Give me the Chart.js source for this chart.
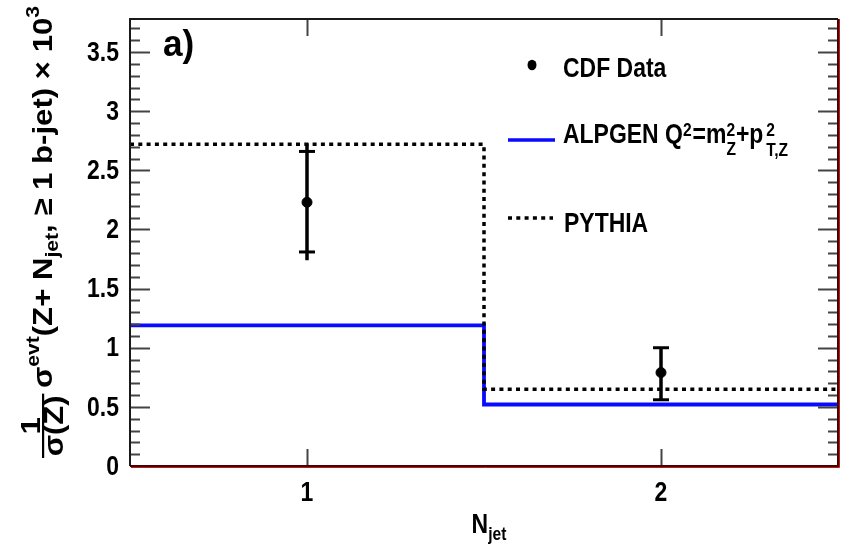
<!DOCTYPE html>
<html>
<head>
<meta charset="utf-8">
<script src="https://cdn.jsdelivr.net/npm/chart.js@4/dist/chart.umd.min.js"></script>
<style>
  html, body { margin: 0; padding: 0; background: #fff; }
  #wrap { width: 854px; height: 548px; }
</style>
</head>
<body>
<div id="wrap"><canvas id="c" width="854" height="548"></canvas></div>
<script>
// Bin edges in N_jet and the per-bin values
const binEdges = [0.5, 1.5, 2.5];
const nJet = [1, 2];
const cdfData = [2.23, 0.79];
const cdfStatLow = [1.81, 0.56];
const cdfStatHigh = [2.66, 1.00];
const cdfTotLow = [1.74, 0.56];
const cdfTotHigh = [2.73, 1.00];
const alpgen = [1.19, 0.52];
const pythia = [2.72, 0.65];
const xTicks = [1, 2];
const yTicks = [0, 0.5, 1, 1.5, 2, 2.5, 3, 3.5];
const yTickLabels = ['0', '0.5', '1', '1.5', '2', '2.5', '3', '3.5'];
const xTickLabels = ['1', '2'];
const yMinorStep = 0.1;
const Y_MAX = 3.78;

const FAM = '"Liberation Sans", Arial, Helvetica, sans-serif';
const BIG = `bold 28px ${FAM}`;
const SMALL = `bold 19px ${FAM}`;
const SX = 0.82;            // condensed letter width
const BLUE = '#0a0aff';

// histogram outline: one point per bin edge, horizontal run then vertical step
function stepPoints(vals) {
  return binEdges.map((e, i) => ({ x: e, y: vals[Math.min(i, vals.length - 1)] }));
}

function textW(ctx, s, font, sx = SX) {
  ctx.save(); ctx.font = font;
  const w = ctx.measureText(s).width * sx;
  ctx.restore();
  return w;
}
function drawText(ctx, s, x, y, font, align = 'left', baseline = 'alphabetic', sx = SX) {
  ctx.save();
  ctx.font = font; ctx.textAlign = align; ctx.textBaseline = baseline;
  ctx.translate(x, y); ctx.scale(sx, 1);
  ctx.fillText(s, 0, 0);
  ctx.restore();
}

const frameAndDecor = {
  id: 'frameAndDecor',
  beforeDatasetsDraw(chart) {
    // error bars of the data points
    const { ctx, scales: { x, y } } = chart;
    ctx.save();
    ctx.strokeStyle = '#000';
    nJet.forEach((n, i) => {
      const px = x.getPixelForValue(n);
      ctx.lineWidth = 3.5;
      ctx.beginPath();
      ctx.moveTo(px, y.getPixelForValue(cdfTotLow[i]));
      ctx.lineTo(px, y.getPixelForValue(cdfTotHigh[i]));
      ctx.stroke();
      ctx.lineWidth = 3;
      [cdfStatLow[i], cdfStatHigh[i]].forEach(v => {
        const py = y.getPixelForValue(v);
        ctx.beginPath();
        ctx.moveTo(px - 8, py);
        ctx.lineTo(px + 8, py);
        ctx.stroke();
      });
    });
    ctx.restore();
  },
  afterDatasetsDraw(chart) {
    const { ctx, chartArea: a, scales: { x, y } } = chart;
    ctx.save();
    // minor and major ticks on both vertical edges
    ctx.strokeStyle = '#444';
    ctx.lineWidth = 2;
    const nMinor = Math.floor(Y_MAX / yMinorStep + 1e-6);
    for (let k = 1; k <= nMinor; k++) {
      const v = k * yMinorStep;
      const major = yTicks.some(t => Math.abs(t - v) < 1e-6);
      const len = major ? 20 : 10;
      const py = Math.round(y.getPixelForValue(v)) + 0.5;
      ctx.beginPath();
      ctx.moveTo(a.left, py); ctx.lineTo(a.left + len, py);
      ctx.moveTo(a.right, py); ctx.lineTo(a.right - len, py);
      ctx.stroke();
    }
    xTicks.forEach(v => {
      const px = Math.round(x.getPixelForValue(v)) + 0.5;
      ctx.beginPath();
      ctx.moveTo(px, a.bottom); ctx.lineTo(px, a.bottom - 17);
      ctx.moveTo(px, a.top); ctx.lineTo(px, a.top + 17);
      ctx.stroke();
    });
    // frame
    ctx.lineWidth = 2;
    ctx.strokeStyle = '#1a1a1a';
    ctx.beginPath();
    ctx.moveTo(a.left, a.bottom); ctx.lineTo(a.left, a.top); ctx.lineTo(a.right, a.top);
    ctx.stroke();
    ctx.strokeStyle = '#3a0606';
    ctx.beginPath();
    ctx.moveTo(a.left, a.bottom); ctx.lineTo(a.right, a.bottom); ctx.lineTo(a.right, a.top);
    ctx.stroke();
    ctx.strokeStyle = '#d01010';
    ctx.lineWidth = 1;
    ctx.beginPath();
    ctx.moveTo(a.left + 1, a.bottom + 1.5); ctx.lineTo(a.right + 1.5, a.bottom + 1.5); ctx.lineTo(a.right + 1.5, a.top);
    ctx.stroke();

    ctx.fillStyle = '#000';

    // tick labels
    yTicks.forEach((v, i) => drawText(ctx, yTickLabels[i], a.left - 11, y.getPixelForValue(v) + 1, BIG, 'right', 'middle'));
    xTicks.forEach((v, i) => drawText(ctx, xTickLabels[i], x.getPixelForValue(v), 501, BIG, 'center'));

    // panel tag
    drawText(ctx, 'a)', 163, 56, `bold 37px ${FAM}`, 'left', 'alphabetic', 0.95);

    // legend
    const ds = chart.data.datasets;
    ctx.beginPath(); ctx.ellipse(532, 65, 4.5, 5.2, 0, 0, Math.PI * 2); ctx.fill();
    drawText(ctx, ds[2].label, 563, 77, BIG);

    ctx.strokeStyle = BLUE; ctx.lineWidth = 3.5;
    ctx.beginPath(); ctx.moveTo(508, 140); ctx.lineTo(555, 140); ctx.stroke();
    let u = 563;
    const base = 143;
    const run = (t, f, dy) => { drawText(ctx, t, u, base + dy, f); return textW(ctx, t, f); };
    u += run('ALPGEN Q', BIG, 0);
    u += run('2', SMALL, -7) + 1;
    u += run('=m', BIG, 0);
    { const w1 = run('2', SMALL, -7); const w2 = run('Z', SMALL, 12); u += Math.max(w1, w2); }
    u += run('+p', BIG, 0) + 3;
    { const w1 = run('2', SMALL, -7); const w2 = run('T,Z', SMALL, 13); u += Math.max(w1, w2); }

    ctx.strokeStyle = '#000'; ctx.lineWidth = 3.5; ctx.setLineDash([4, 4.3]);
    ctx.beginPath(); ctx.moveTo(508, 218); ctx.lineTo(553, 218); ctx.stroke();
    ctx.setLineDash([]);
    drawText(ctx, ds[1].label, 564, 232, BIG);

    // x title: N_jet
    const wN = textW(ctx, 'N', BIG);
    const wJ = textW(ctx, 'jet', SMALL);
    const x0 = (a.left + a.right) / 2 + 5 - (wN + wJ) / 2;
    drawText(ctx, 'N', x0, 533, BIG);
    drawText(ctx, 'jet', x0 + wN, 540, SMALL);

    // y title, rotated
    drawYTitle(ctx);
    ctx.restore();
  }
};

function drawYTitle(ctx) {
  const parts = [
    { t: 'σ', f: BIG, v: 0 },
    { t: 'evt', f: SMALL, v: -13 },
    { t: '(Z+ N', f: BIG, v: 0 },
    { t: 'jet', f: SMALL, v: 6 },
    { t: ', ≥ 1 b-jet) × 10', f: BIG, v: 0 },
    { t: '3', f: SMALL, v: -13 }
  ];
  ctx.save();
  ctx.font = BIG;
  const fw = Math.max(ctx.measureText('1').width, ctx.measureText('σ(Z)').width) + 3;
  let L = fw + 5;
  parts.forEach(p => { ctx.font = p.f; p.w = ctx.measureText(p.t).width; L += p.w; });
  const totalLen = 452;            // length of the title along the axis
  ctx.translate(52, 232);
  ctx.rotate(-Math.PI / 2);
  ctx.scale(totalLen / L, 1);
  ctx.fillStyle = '#000';
  ctx.textBaseline = 'alphabetic';
  let u = -L / 2;
  ctx.font = BIG;
  ctx.textAlign = 'center';
  ctx.fillText('1', u + fw / 2, -12);
  ctx.fillText('σ(Z)', u + fw / 2, 11);
  ctx.fillRect(u, -10, fw, 2.2);
  u += fw + 5;
  ctx.textAlign = 'left';
  parts.forEach(p => { ctx.font = p.f; ctx.fillText(p.t, u, p.v); u += p.w; });
  ctx.restore();
}

new Chart(document.getElementById('c'), {
  type: 'scatter',
  data: {
    datasets: [
      {
        label: 'ALPGEN',
        type: 'line',
        data: stepPoints(alpgen),
        stepped: 'before',
        borderColor: BLUE,
        borderWidth: 3.8,
        pointRadius: 0,
        fill: false,
        order: 3
      },
      {
        label: 'PYTHIA',
        type: 'line',
        data: stepPoints(pythia),
        stepped: 'before',
        borderColor: '#000',
        borderWidth: 3.5,
        borderDash: [4, 4.3],
        pointRadius: 0,
        fill: false,
        order: 2
      },
      {
        label: 'CDF Data',
        data: nJet.map((n, i) => ({ x: n, y: cdfData[i] })),
        backgroundColor: '#000',
        borderColor: '#000',
        pointRadius: 5,
        pointHoverRadius: 5,
        order: 1
      }
    ]
  },
  options: {
    responsive: false,
    devicePixelRatio: 1,
    animation: false,
    layout: { padding: { left: 0, top: 19, right: 16, bottom: 0 } },
    plugins: { legend: { display: false }, tooltip: { enabled: false } },
    scales: {
      x: {
        type: 'linear',
        min: 0.5,
        max: 2.5,
        afterBuildTicks: s => { s.ticks = xTicks.map(v => ({ value: v })); },
        afterFit: s => { s.height = 82; },
        grid: { display: false, drawTicks: false },
        border: { display: false },
        ticks: { display: false }
      },
      y: {
        type: 'linear',
        min: 0,
        max: Y_MAX,
        afterBuildTicks: s => { s.ticks = yTicks.map(v => ({ value: v })); },
        afterFit: s => { s.width = 130; },
        grid: { display: false, drawTicks: false },
        border: { display: false },
        ticks: { display: false }
      }
    }
  },
  plugins: [frameAndDecor]
});
</script>
</body>
</html>
